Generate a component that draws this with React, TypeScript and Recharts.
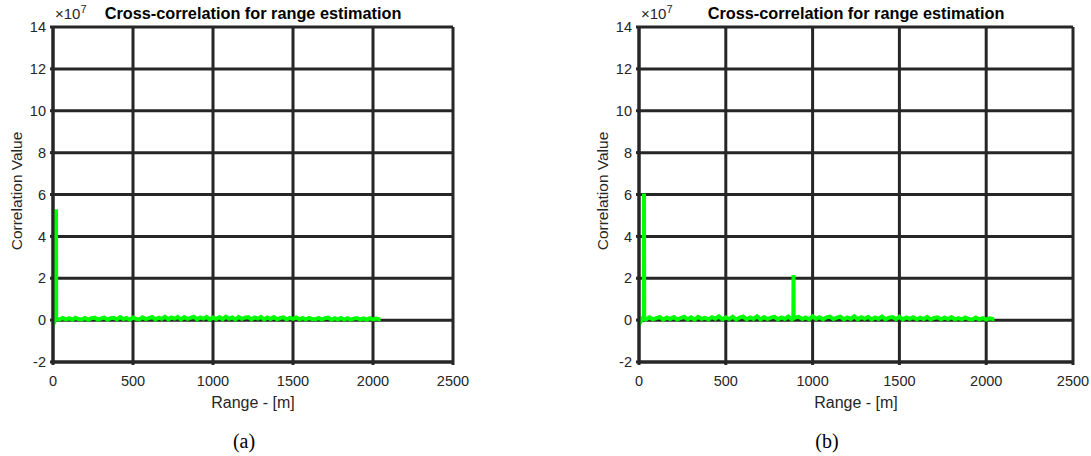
import { LineChart, Line, XAxis, YAxis, CartesianGrid } from "recharts";

// sample ranges for the noise floor [m]
const floorRange = [
  0, 20, 40, 60, 80, 100, 120, 140, 160, 180,
  200, 220, 240, 260, 280, 300, 320, 340, 360, 380,
  400, 420, 440, 460, 480, 500, 520, 540, 560, 580,
  600, 620, 640, 660, 680, 700, 720, 740, 760, 780,
  800, 820, 840, 860, 880, 900, 920, 940, 960, 980,
  1000, 1020, 1040, 1060, 1080, 1100, 1120, 1140, 1160, 1180,
  1200, 1220, 1240, 1260, 1280, 1300, 1320, 1340, 1360, 1380,
  1400, 1420, 1440, 1460, 1480, 1500, 1520, 1540, 1560, 1580,
  1600, 1620, 1640, 1660, 1680, 1700, 1720, 1740, 1760, 1780,
  1800, 1820, 1840, 1860, 1880, 1900, 1920, 1940, 1960, 1980,
  2000, 2020, 2040,
];

// correlation values, x10^7
const floorA = [
  0.02, 0.08, 0.03, 0.1, 0.04, 0.09, 0.02, 0.11, 0.05, 0.03,
  0.1, 0.02, 0.09, 0.12, 0.03, 0.07, 0.13, 0.02, 0.09, 0.11,
  0.03, 0.14, 0.05, 0.1, 0.02, 0.12, 0.06, 0.03, 0.13, 0.05,
  0.1, 0.15, 0.03, 0.12, 0.06, 0.16, 0.04, 0.13, 0.07, 0.15,
  0.03, 0.14, 0.06, 0.11, 0.16, 0.04, 0.13, 0.07, 0.15, 0.03,
  0.12, 0.05, 0.14, 0.04, 0.16, 0.07, 0.13, 0.03, 0.15, 0.06,
  0.12, 0.14, 0.04, 0.13, 0.07, 0.15, 0.03, 0.12, 0.05, 0.14,
  0.04, 0.1, 0.13, 0.03, 0.11, 0.06, 0.13, 0.04, 0.1, 0.03,
  0.11, 0.05, 0.04, 0.1, 0.03, 0.09, 0.12, 0.02, 0.09, 0.04,
  0.1, 0.03, 0.09, 0.02, 0.07, 0.1, 0.03, 0.08, 0.02, 0.09,
  0.03, 0.07, 0.04,
];

const floorB = [
  0.01, 0.09, 0.03, 0.13, 0.04, 0.1, 0.15, 0.02, 0.12, 0.05,
  0.14, 0.03, 0.1, 0.16, 0.04, 0.13, 0.02, 0.15, 0.06, 0.11,
  0.03, 0.14, 0.07, 0.18, 0.04, 0.13, 0.05, 0.16, 0.03, 0.12,
  0.17, 0.04, 0.13, 0.06, 0.18, 0.03, 0.14, 0.05, 0.12, 0.16,
  0.04, 0.13, 0.06, 0.17, 0.03, 0.12, 0.16, 0.05, 0.13, 0.04,
  0.18, 0.06, 0.14, 0.03, 0.13, 0.17, 0.05, 0.12, 0.16, 0.04,
  0.13, 0.06, 0.18, 0.04, 0.14, 0.07, 0.16, 0.03, 0.13, 0.06,
  0.17, 0.04, 0.12, 0.15, 0.05, 0.16, 0.03, 0.13, 0.06, 0.14,
  0.04, 0.12, 0.05, 0.15, 0.03, 0.1, 0.13, 0.04, 0.12, 0.05,
  0.14, 0.03, 0.1, 0.04, 0.13, 0.05, 0.03, 0.12, 0.04, 0.1,
  0.03, 0.09, 0.05,
];

// peaks (target echoes) and start dip
const peakRangeA = [6, 18, 19, 20, 2047];
const peakValueA = [-0.12, 0.05, 5.3, 0.05, 0.05];

const peakRangeB = [6, 28, 29, 30, 889, 890, 891, 2047];
const peakValueB = [-0.12, 0.06, 6.05, 0.06, 0.08, 2.15, 0.08, 0.06];

const xTicks = [0, 500, 1000, 1500, 2000, 2500];
const yTicks = [-2, 0, 2, 4, 6, 8, 10, 12, 14];

function buildRows(extraRange: number[], extraValue: number[], floor: number[]) {
  const rows = floorRange.map((r, i) => ({ range: r, value: floor[i] }));
  extraRange.forEach((r, i) => rows.push({ range: r, value: extraValue[i] }));
  return rows.sort((a, b) => a.range - b.range);
}

const dataA = buildRows(peakRangeA, peakValueA, floorA);
const dataB = buildRows(peakRangeB, peakValueB, floorB);

const ink = "#262626";
const sans = "'Liberation Sans', Arial, sans-serif";

type PanelProps = {
  data: { range: number; value: number }[];
  left: number;
  width: number;
  rightMargin: number;
  caption: string;
  captionX: number;
};

function Panel({ data, left, width, rightMargin, caption, captionX }: PanelProps) {
  const plotLeft = 53;
  const plotRight = width - rightMargin;
  const plotCenter = (plotLeft + plotRight) / 2;
  return (
    <div style={{ position: "absolute", left, top: 0, width, height: 456 }}>
      <LineChart
        width={width}
        height={456}
        data={data}
        margin={{ top: 27, right: rightMargin, bottom: 64, left: 0 }}
      >
        <CartesianGrid stroke={ink} strokeWidth={3} />
        <XAxis
          dataKey="range"
          type="number"
          domain={[0, 2500]}
          ticks={xTicks}
          height={30}
          tickSize={3}
          tickMargin={11}
          stroke={ink}
          strokeWidth={3}
          tick={{ fill: ink, fontSize: 14.5, fontFamily: sans }}
        />
        <YAxis
          type="number"
          domain={[-2, 14]}
          ticks={yTicks}
          width={53}
          tickSize={3}
          tickMargin={4}
          stroke={ink}
          strokeWidth={3}
          tick={{ fill: ink, fontSize: 14.5, fontFamily: sans }}
        />
        <Line
          dataKey="value"
          type="linear"
          stroke="#00ff00"
          strokeWidth={4}
          dot={false}
          isAnimationActive={false}
        />
      </LineChart>
      <div
        style={{
          position: "absolute",
          left: plotCenter - 200,
          width: 400,
          top: 4,
          textAlign: "center",
          fontFamily: sans,
          fontWeight: "bold",
          fontSize: 16.3,
          color: "#000",
        }}
      >
        Cross-correlation for range estimation
      </div>
      <div
        style={{
          position: "absolute",
          left: 55,
          top: 3,
          fontFamily: sans,
          fontSize: 15,
          color: ink,
        }}
      >
        ×10<sup style={{ fontSize: 11 }}>7</sup>
      </div>
      <div
        style={{
          position: "absolute",
          left: 17 - 100,
          width: 200,
          top: 191 - 9,
          textAlign: "center",
          fontFamily: sans,
          fontSize: 15.5,
          color: ink,
          transform: "rotate(-90deg)",
        }}
      >
        Correlation Value
      </div>
      <div
        style={{
          position: "absolute",
          left: plotCenter - 100,
          width: 200,
          top: 394,
          textAlign: "center",
          fontFamily: sans,
          fontSize: 16,
          color: ink,
        }}
      >
        Range - [m]
      </div>
      <div
        style={{
          position: "absolute",
          left: captionX - 50,
          width: 100,
          top: 430,
          textAlign: "center",
          fontFamily: "'Liberation Serif', 'Times New Roman', serif",
          fontSize: 20,
          color: "#000",
        }}
      >
        {caption}
      </div>
    </div>
  );
}

export default function App() {
  return (
    <div
      style={{
        position: "absolute",
        left: 0,
        top: 0,
        width: 1091,
        height: 456,
        background: "#fff",
      }}
    >
      <Panel data={dataA} left={0} width={545} rightMargin={92} caption="(a)" captionX={244} />
      <Panel data={dataB} left={586} width={505} rightMargin={18} caption="(b)" captionX={241} />
    </div>
  );
}
